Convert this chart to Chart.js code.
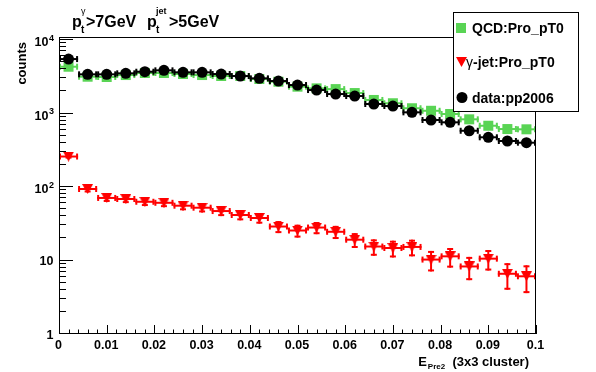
<!DOCTYPE html>
<html>
<head>
<meta charset="utf-8">
<script src="https://cdn.jsdelivr.net/npm/chart.js@4.4.0/dist/chart.umd.min.js"></script>
<style>
  html, body { margin: 0; padding: 0; background: #fff; }
  #wrap { width: 596px; height: 372px; }
</style>
</head>
<body>
<div id="wrap"><canvas id="chart" width="596" height="372"></canvas></div>
<script>
// bins of E_Pre2, width 0.004
const binCenters = [0.002, 0.006, 0.010, 0.014, 0.018, 0.022, 0.026, 0.030, 0.034, 0.038,
  0.042, 0.046, 0.050, 0.054, 0.058, 0.062, 0.066, 0.070, 0.074, 0.078,
  0.082, 0.086, 0.090, 0.094, 0.098];
const binHalfWidth = 0.002;

const qcdCounts = [4335, 3170, 3140, 3340, 3560, 3560, 3450, 3340, 3240, 3240,
  2950, 2710, 2320, 2200, 2150, 1900, 1530, 1380, 1180, 1090,
  985, 834, 682, 615, 610];
const gjetCounts = [260, 94, 71, 68.7, 63, 61, 55.7, 52.3, 47.1, 41.6,
  37.9, 29, 25.6, 28.1, 24.6, 19.2, 15.5, 14.8, 15.3, 10.3,
  11.4, 8.3, 10.6, 6.6, 6.1];
const gjetErrors = [16.1, 9.7, 8.4, 8.3, 7.9, 7.8, 7.5, 7.2, 6.9, 6.4,
  6.2, 5.4, 5.1, 5.3, 5.0, 4.4, 3.9, 3.8, 3.9, 3.2,
  3.4, 2.9, 3.3, 2.6, 2.5];
const dataCounts = [5510, 3415, 3415, 3524, 3705, 3870, 3636, 3636, 3446, 3236,
  3013, 2768, 2442, 2088, 1842, 1730, 1347, 1265, 1038, 816,
  759, 583, 475, 423, 401];

const xTicks = [0, 0.01, 0.02, 0.03, 0.04, 0.05, 0.06, 0.07, 0.08, 0.09, 0.1];
const xTickLabels = ['0', '0.01', '0.02', '0.03', '0.04', '0.05', '0.06', '0.07', '0.08', '0.09', '0.1'];
const yTicks = [1, 10, 100, 1000, 10000];
const yTickLabels = [['1', ''], ['10', ''], ['10', '2'], ['10', '3'], ['10', '4']];

const GREEN = '#59d454', RED = '#ff0000', BLACK = '#000000';
const FONT = '"Liberation Sans", Arial, Helvetica, sans-serif';

// down triangle marker (ROOT style 23)
const tri = document.createElement('canvas');
tri.width = 11; tri.height = 10;
(function () {
  const c = tri.getContext('2d');
  c.fillStyle = RED;
  c.beginPath(); c.moveTo(0, 0); c.lineTo(11, 0); c.lineTo(5.5, 10); c.closePath(); c.fill();
})();

function pts(vals) { return vals.map((v, i) => ({ x: binCenters[i], y: v })); }

function line(ctx, x0, y0, x1, y1) {
  ctx.beginPath(); ctx.moveTo(x0, y0); ctx.lineTo(x1, y1); ctx.stroke();
}

// draw text with ROOT-like sub/superscripts, returns end x
function drawParts(ctx, x, parts) {
  let cx = x;
  parts.forEach(p => {
    ctx.font = p.font;
    ctx.fillText(p.t, cx, p.y);
    if (!p.noAdvance) cx += ctx.measureText(p.t).width;
  });
  return cx;
}

const rootStyle = {
  id: 'rootStyle',
  beforeDatasetDraw(chart, args) {
    const ds = chart.data.datasets[args.index];
    const xs = chart.scales.x, ys = chart.scales.y, ctx = chart.ctx;
    ctx.save();
    ctx.strokeStyle = ds.barColor;
    ctx.lineWidth = 2;
    ds.data.forEach((p, i) => {
      const y = ys.getPixelForValue(p.y);
      const xa = xs.getPixelForValue(p.x - binHalfWidth);
      const xb = xs.getPixelForValue(p.x + binHalfWidth);
      const xc = xs.getPixelForValue(p.x);
      line(ctx, xa, y, xb, y);
      line(ctx, xa + 1, y - 3, xa + 1, y + 3);
      line(ctx, xb - 1, y - 3, xb - 1, y + 3);
      if (ds.errs) {
        const e = ds.errs[i];
        const yl = ys.getPixelForValue(Math.max(p.y - e, 1));
        const yh = ys.getPixelForValue(p.y + e);
        line(ctx, xc, yl, xc, yh);
        line(ctx, xc - 3, yl - 1, xc + 3, yl - 1);
        line(ctx, xc - 3, yh + 1, xc + 3, yh + 1);
      }
    });
    ctx.restore();
  },
  afterDraw(chart) {
    const ctx = chart.ctx, a = chart.chartArea;
    const xs = chart.scales.x, ys = chart.scales.y;
    ctx.save();
    ctx.strokeStyle = BLACK; ctx.fillStyle = BLACK; ctx.lineWidth = 1;
    // frame
    ctx.strokeRect(a.left + 0.5, a.top + 0.5, a.right - a.left - 1, a.bottom - a.top - 1);
    // x ticks
    for (let k = 0; k <= 50; k++) {
      const v = k * 0.002;
      const px = Math.round(xs.getPixelForValue(v)) + 0.5;
      const len = (k % 5 === 0) ? 9 : 4.5;
      line(ctx, px, a.bottom, px, a.bottom - len);
    }
    // y ticks
    for (let d = 0; d <= 4; d++) {
      for (let m = 1; m <= 9; m++) {
        const v = m * Math.pow(10, d);
        if (v > ys.max) break;
        const py = Math.round(ys.getPixelForValue(v)) - 0.5;
        line(ctx, a.left, py, a.left + (m === 1 ? 14 : 7), py);
      }
    }
    // x tick labels
    ctx.textAlign = 'center'; ctx.textBaseline = 'alphabetic';
    ctx.font = 'bold 12.5px ' + FONT;
    xTicks.forEach((v, i) => ctx.fillText(xTickLabels[i], xs.getPixelForValue(v) - 0.5, 348.5));
    // y tick labels
    ctx.textAlign = 'right';
    yTicks.forEach((v, i) => {
      const py = ys.getPixelForValue(v);
      const [base, ex] = yTickLabels[i];
      ctx.font = 'bold 12.5px ' + FONT;
      if (ex) {
        ctx.fillText(base, 48.5, py + 6);
        ctx.font = 'bold 9px ' + FONT;
        ctx.fillText(ex, 54, py + 0.5);
      } else {
        ctx.fillText(base, 53.5, py + 4.5);
      }
    });
    // title
    ctx.textAlign = 'left';
    const big = 'bold 16px ' + FONT, sm = 'bold 10px ' + FONT, sup = 'bold 9px ' + FONT;
    ctx.font = big; ctx.fillText('p', 72, 26.5);
    ctx.font = sm; ctx.fillText('t', 81, 33);
    ctx.font = '9px ' + FONT; ctx.fillText('\u03b3', 81, 13.5);
    ctx.font = big; ctx.fillText('>7GeV', 86, 26.5);
    ctx.font = big; ctx.fillText('p', 147, 26.5);
    ctx.font = sm; ctx.fillText('t', 156, 33);
    ctx.font = sup; ctx.fillText('jet', 156, 14);
    ctx.font = big; ctx.fillText('>5GeV', 169, 26.5);
    // axis titles
    ctx.font = 'bold 13px ' + FONT;
    const w1 = ctx.measureText('E').width;
    ctx.font = 'bold 8px ' + FONT;
    const w2 = ctx.measureText('Pre2').width;
    ctx.font = 'bold 13px ' + FONT;
    const w3 = ctx.measureText('  (3x3 cluster)').width;
    let sx = 529 - (w1 + 1 + w2 + w3);
    ctx.fillText('E', sx, 366);
    ctx.font = 'bold 8px ' + FONT;
    ctx.fillText('Pre2', sx + w1 + 1, 368.5);
    ctx.font = 'bold 13px ' + FONT;
    ctx.fillText('  (3x3 cluster)', sx + w1 + 1 + w2, 366);

    ctx.save();
    ctx.translate(25.5, 42);
    ctx.rotate(-Math.PI / 2);
    ctx.textAlign = 'right';
    ctx.font = 'bold 13px ' + FONT;
    ctx.fillText('counts', 0, 0);
    ctx.restore();

    // legend
    ctx.fillStyle = '#fff';
    ctx.fillRect(453, 12, 125, 99);
    ctx.strokeStyle = BLACK;
    ctx.strokeRect(453.5, 12.5, 125, 99);
    ctx.fillStyle = GREEN;
    ctx.fillRect(456, 23, 10, 10);
    ctx.drawImage(tri, 456, 57);
    ctx.fillStyle = BLACK;
    ctx.beginPath(); ctx.arc(462, 97.5, 5.5, 0, Math.PI * 2); ctx.fill();
    ctx.textAlign = 'left';
    ctx.font = 'bold 14px ' + FONT;
    ctx.fillText('QCD:Pro_pT0', 472, 33);
    ctx.fillText('data:pp2006', 472, 103);
    ctx.font = '14px ' + FONT;
    ctx.fillText('\u03b3', 466, 67);
    ctx.font = 'bold 14px ' + FONT;
    ctx.fillText('-jet:Pro_pT0', 473, 67);
    ctx.restore();
  }
};

new Chart(document.getElementById('chart'), {
  type: 'scatter',
  data: {
    datasets: [
      { label: 'data:pp2006', data: pts(dataCounts), pointStyle: 'circle', pointRadius: 5.5,
        backgroundColor: BLACK, borderColor: BLACK, borderWidth: 0, barColor: BLACK, order: 0 },
      { label: '\u03b3-jet:Pro_pT0', data: pts(gjetCounts), pointStyle: tri, pointRadius: 5,
        backgroundColor: RED, borderColor: RED, borderWidth: 0, barColor: RED, errs: gjetErrors, order: 1 },
      { label: 'QCD:Pro_pT0', data: pts(qcdCounts), pointStyle: 'rect', pointRadius: 7.07,
        backgroundColor: GREEN, borderColor: GREEN, borderWidth: 0, barColor: GREEN, order: 2 }
    ]
  },
  options: {
    responsive: false,
    animation: false,
    devicePixelRatio: 1,
    events: [],
    layout: { padding: { left: 59, right: 60, top: 37, bottom: 38 } },
    scales: {
      x: { type: 'linear', min: 0, max: 0.1, display: false },
      y: { type: 'logarithmic', min: 1, max: 11000, display: false }
    },
    plugins: { legend: { display: false }, tooltip: { enabled: false } }
  },
  plugins: [rootStyle]
});
</script>
</body>
</html>
